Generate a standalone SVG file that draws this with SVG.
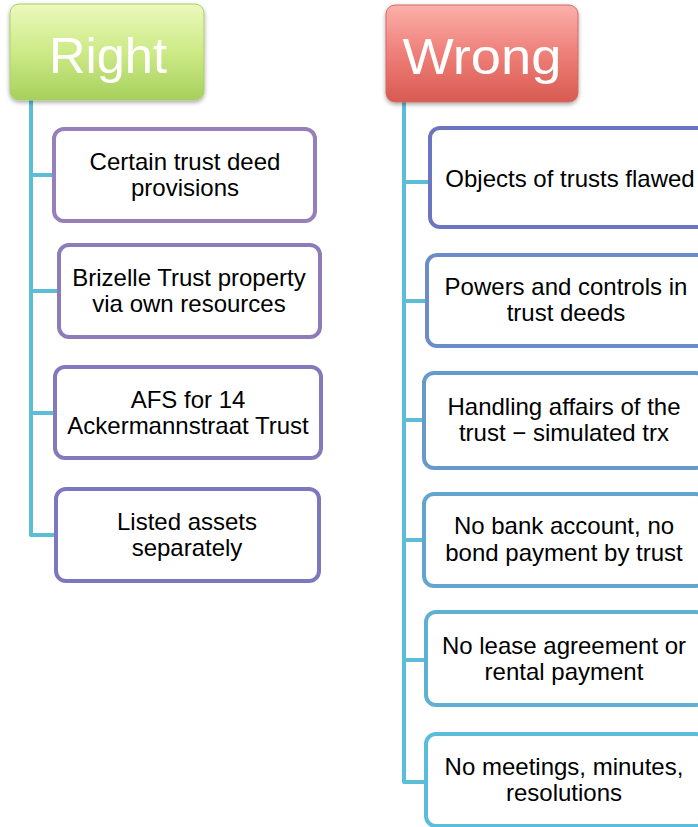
<svg xmlns="http://www.w3.org/2000/svg" width="698" height="827" viewBox="0 0 698 827">
  <defs>
    <linearGradient id="gGreen" x1="0" y1="0" x2="0" y2="1">
      <stop offset="0" stop-color="#ECF9BC"/>
      <stop offset="0.5" stop-color="#CDEA87"/>
      <stop offset="1" stop-color="#A6D05C"/>
    </linearGradient>
    <linearGradient id="gRed" x1="0" y1="0" x2="0" y2="1">
      <stop offset="0" stop-color="#FBB0AA"/>
      <stop offset="0.5" stop-color="#EE7F78"/>
      <stop offset="1" stop-color="#D85A52"/>
    </linearGradient>
    <filter id="shadow" x="-10%" y="-10%" width="120%" height="125%">
      <feDropShadow dx="0" dy="2" stdDeviation="2" flood-color="#000" flood-opacity="0.35"/>
    </filter>
  </defs>
  <style>
    .hdr { font-family: "Liberation Sans", Arial, sans-serif; font-size: 50px; fill: #FFFFFF; text-anchor: middle; }
    .box { fill: #FFFFFF; stroke-width: 4; }
    .lbl { font-family: "Liberation Sans", Arial, sans-serif; font-size: 24px; fill: #000000; text-anchor: middle; }
    .conn { fill: none; stroke: #5BBDD6; stroke-width: 4; stroke-linejoin: round; }
  </style>

  <g id="connectors">
    <path class="conn" d="M31,100 V535 H56"/>
    <path class="conn" d="M31,175 H54"/>
    <path class="conn" d="M31,291 H59"/>
    <path class="conn" d="M31,413 H55"/>
    <path class="conn" d="M404,102 V782 H426"/>
    <path class="conn" d="M404,182 H430"/>
    <path class="conn" d="M404,301 H427"/>
    <path class="conn" d="M404,420 H424"/>
    <path class="conn" d="M404,540 H424"/>
    <path class="conn" d="M404,660 H426"/>
  </g>

  <g id="right">
    <rect x="10" y="4" width="194" height="96" rx="9" fill="url(#gGreen)" stroke="#A9CF6A" stroke-width="1" filter="url(#shadow)"/>
    <text class="hdr" x="108" y="73" textLength="118" lengthAdjust="spacingAndGlyphs">Right</text>
  </g>
  <g id="wrong">
    <rect x="386" y="5" width="192" height="97" rx="9" fill="url(#gRed)" stroke="#D46A62" stroke-width="1" filter="url(#shadow)"/>
    <text class="hdr" x="482" y="74" textLength="159" lengthAdjust="spacingAndGlyphs">Wrong</text>
  </g>

  <g id="r1">
    <rect class="box" x="54" y="129" width="261" height="92" rx="10" stroke="#977FB9"/>
    <text class="lbl" x="185" y="170">Certain trust deed</text>
    <text class="lbl" x="185" y="196">provisions</text>
  </g>
  <g id="r2">
    <rect class="box" x="59" y="245" width="261" height="92" rx="10" stroke="#8D7BBA"/>
    <text class="lbl" x="189" y="286">Brizelle Trust property</text>
    <text class="lbl" x="189" y="312">via own resources</text>
  </g>
  <g id="r3">
    <rect class="box" x="55" y="367" width="266" height="91" rx="10" stroke="#8479BD"/>
    <text class="lbl" x="188" y="408">AFS for 14</text>
    <text class="lbl" x="188" y="434">Ackermannstraat Trust</text>
  </g>
  <g id="r4">
    <rect class="box" x="56" y="489" width="263" height="92" rx="10" stroke="#7C77BF"/>
    <text class="lbl" x="187" y="530">Listed assets</text>
    <text class="lbl" x="187" y="556">separately</text>
  </g>

  <g id="w1">
    <rect class="box" x="430" y="128" width="282" height="99" rx="10" stroke="#6B75C0"/>
    <text class="lbl" x="570" y="187">Objects of trusts flawed</text>
  </g>
  <g id="w2">
    <rect class="box" x="427" y="255" width="280" height="91" rx="10" stroke="#6A8CC9"/>
    <text class="lbl" x="566" y="295">Powers and controls in</text>
    <text class="lbl" x="566" y="321">trust deeds</text>
  </g>
  <g id="w3">
    <rect class="box" x="424" y="373" width="282" height="95" rx="10" stroke="#669ACC"/>
    <text class="lbl" x="564" y="415">Handling affairs of the</text>
    <text class="lbl" x="564" y="441">trust − simulated trx</text>
  </g>
  <g id="w4">
    <rect class="box" x="424" y="494" width="282" height="92" rx="10" stroke="#62A6CF"/>
    <text class="lbl" x="564" y="534">No bank account, no</text>
    <text class="lbl" x="564" y="561">bond payment by trust</text>
  </g>
  <g id="w5">
    <rect class="box" x="426" y="612" width="280" height="93" rx="10" stroke="#5EB1D3"/>
    <text class="lbl" x="564" y="654">No lease agreement or</text>
    <text class="lbl" x="564" y="680">rental payment</text>
  </g>
  <g id="w6">
    <rect class="box" x="426" y="734" width="280" height="92" rx="10" stroke="#5BBDD9"/>
    <text class="lbl" x="564" y="775">No meetings, minutes,</text>
    <text class="lbl" x="564" y="801">resolutions</text>
  </g>
</svg>
